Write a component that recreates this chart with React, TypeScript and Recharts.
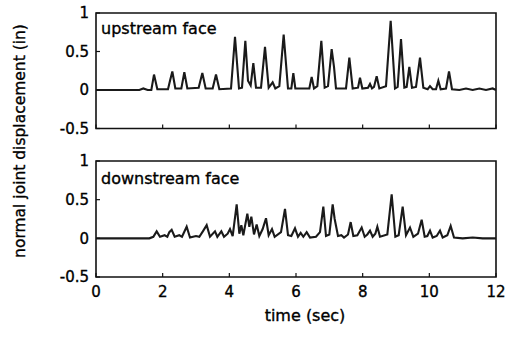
import React from 'react';
import { LineChart, Line, XAxis, YAxis, ReferenceArea } from 'recharts';

const upTime = [0, 1.3, 1.42, 1.55, 1.66, 1.74, 1.84, 2.16, 2.22, 2.29, 2.38, 2.56, 2.65, 2.74, 3.08, 3.19, 3.29, 3.5, 3.6, 3.7, 4.05, 4.17, 4.29, 4.38, 4.48, 4.56, 4.64, 4.72, 4.8, 4.95, 5.07, 5.18, 5.3, 5.38, 5.5, 5.63, 5.76, 5.86, 5.92, 5.98, 6.4, 6.47, 6.54, 6.64, 6.76, 6.86, 6.96, 7.07, 7.14, 7.2, 7.5, 7.6, 7.7, 7.86, 7.92, 7.99, 8.16, 8.22, 8.28, 8.34, 8.42, 8.5, 8.7, 8.84, 8.97, 9.05, 9.15, 9.25, 9.32, 9.4, 9.48, 9.6, 9.72, 9.82, 9.95, 10.02, 10.1, 10.2, 10.27, 10.34, 10.5, 10.59, 10.68, 10.9, 11.1, 11.3, 11.5, 11.7, 11.9, 12];
const upDisp = [0, 0, 0.02, 0, 0, 0.2, 0.01, 0.01, 0.12, 0.24, 0.02, 0.02, 0.23, 0.02, 0.03, 0.22, 0.02, 0.02, 0.2, 0.01, 0.02, 0.69, 0.02, 0.03, 0.64, 0.12, 0.06, 0.35, 0.03, 0.03, 0.56, 0.03, 0.1, 0.02, 0.05, 0.72, 0.02, 0.02, 0.22, 0.02, 0.02, 0.17, 0.02, 0.05, 0.64, 0.03, 0.05, 0.53, 0.3, 0.02, 0.02, 0.42, 0.02, 0.03, 0.16, 0.02, 0.03, 0.08, 0.02, 0.04, 0.18, 0.02, 0.05, 0.9, 0.02, 0.04, 0.66, 0.03, 0.04, 0.3, 0.03, 0.04, 0.42, 0.03, 0.01, 0.05, 0.01, 0.01, 0.12, 0.01, 0.02, 0.24, 0.01, 0, 0.02, 0, 0.02, 0, 0.02, 0];

const downTime = [0, 1.6, 1.72, 1.82, 1.92, 2.06, 2.14, 2.2, 2.27, 2.36, 2.5, 2.58, 2.72, 2.82, 3.0, 3.1, 3.22, 3.32, 3.42, 3.57, 3.64, 3.76, 3.84, 3.95, 4.02, 4.1, 4.22, 4.3, 4.36, 4.42, 4.54, 4.6, 4.66, 4.74, 4.82, 4.9, 5.0, 5.1, 5.18, 5.28, 5.36, 5.55, 5.67, 5.76, 5.86, 5.97, 6.06, 6.14, 6.22, 6.32, 6.42, 6.6, 6.72, 6.82, 6.9, 7.0, 7.1, 7.16, 7.26, 7.36, 7.44, 7.56, 7.64, 7.72, 7.84, 7.97, 8.06, 8.14, 8.22, 8.3, 8.38, 8.44, 8.52, 8.74, 8.87, 8.98, 9.08, 9.2, 9.3, 9.42, 9.52, 9.66, 9.77, 9.86, 9.94, 10.02, 10.1, 10.22, 10.32, 10.4, 10.54, 10.64, 10.74, 11.0, 11.3, 11.6, 12];
const downDisp = [0, 0, 0.02, 0.09, 0.02, 0.04, 0.02, 0.08, 0.11, 0.02, 0.04, 0.02, 0.15, 0.01, 0.03, 0.02, 0.1, 0.17, 0.02, 0.09, 0.02, 0.09, 0.02, 0.06, 0.12, 0.03, 0.44, 0.06, 0.17, 0.04, 0.32, 0.15, 0.28, 0.05, 0.18, 0.03, 0.12, 0.26, 0.04, 0.12, 0.02, 0.08, 0.38, 0.04, 0.03, 0.13, 0.02, 0.07, 0.02, 0.08, 0.01, 0.02, 0.08, 0.41, 0.03, 0.05, 0.44, 0.25, 0.03, 0.04, 0.01, 0.05, 0.21, 0.03, 0.04, 0.14, 0.02, 0.05, 0.1, 0.02, 0.06, 0.15, 0.02, 0.05, 0.57, 0.02, 0.04, 0.41, 0.04, 0.14, 0.02, 0.06, 0.24, 0.02, 0.03, 0.1, 0.01, 0.03, 0.1, 0.01, 0.04, 0.16, 0.01, 0, 0.01, 0, 0];

const xTicks = [0, 2, 4, 6, 8, 10, 12];
const yTicks = [-0.5, 0, 0.5, 1];
const panelTitles = ['upstream face', 'downstream face'];
const xLabel = 'time (sec)';
const yLabel = 'normal joint displacement (in)';

const upData = upTime.map((t, i) => ({ t, v: upDisp[i] }));
const downData = downTime.map((t, i) => ({ t, v: downDisp[i] }));

const FONT = '"DejaVu Sans", sans-serif';
const tickStyle = { fontSize: 15, fill: '#000', fontFamily: FONT, stroke: '#000', strokeWidth: 0.35 };

function Panel({ data, showXLabels, height, marginBottom, xHeight }: any) {
  return (
    <LineChart width={515} height={height} data={data} margin={{ top: 13, right: 19, bottom: marginBottom, left: 0 }}>
      <XAxis
        dataKey="t"
        type="number"
        domain={[0, 12]}
        ticks={xTicks}
        allowDataOverflow
        axisLine={false}
        tickSize={-4}
        tickMargin={13}
        height={xHeight}
        tick={tickStyle}
        tickLine={{ stroke: '#111', strokeWidth: 1.2 }}
        tickFormatter={(v: number) => (showXLabels ? String(v) : '')}
        interval={0}
      />
      <YAxis
        type="number"
        domain={[-0.5, 1]}
        ticks={yTicks}
        allowDataOverflow
        axisLine={false}
        width={96}
        tickSize={-4}
        tickMargin={11}
        tick={tickStyle}
        tickLine={{ stroke: '#111', strokeWidth: 1.2 }}
        interval={0}
      />
      <ReferenceArea x1={0} x2={12} y1={-0.5} y2={1} fill="none" stroke="#111" strokeWidth={1.6} ifOverflow="visible" />
      <Line dataKey="v" type="linear" stroke="#1a1a1a" strokeWidth={2.1} dot={false} isAnimationActive={false} />
    </LineChart>
  );
}

export default function App() {
  const textProps = { fontFamily: FONT, fill: '#000', stroke: '#000', strokeWidth: 0.35 };
  return (
    <div style={{ position: 'absolute', left: 0, top: 0, width: 515, height: 339, background: '#fff' }}>
      <div style={{ position: 'absolute', left: 0, top: 0 }}>
        <Panel data={upData} showXLabels={false} height={145} marginBottom={15.5} xHeight={1} />
      </div>
      <div style={{ position: 'absolute', left: 0, top: 148 }}>
        <Panel data={downData} showXLabels={true} height={191} marginBottom={32} xHeight={30} />
      </div>
      <svg width={515} height={339} style={{ position: 'absolute', left: 0, top: 0, pointerEvents: 'none' }}>
        <text x={101} y={34} fontSize={16} {...textProps}>{panelTitles[0]}</text>
        <text x={101} y={184} fontSize={16} {...textProps}>{panelTitles[1]}</text>
        <text x={305} y={321} textAnchor="middle" fontSize={16} {...textProps}>{xLabel}</text>
        <text
          x={0}
          y={0}
          transform="translate(25,141) rotate(-90)"
          textAnchor="middle"
          fontSize={15.5}
          {...textProps}
        >
          {yLabel}
        </text>
      </svg>
    </div>
  );
}
